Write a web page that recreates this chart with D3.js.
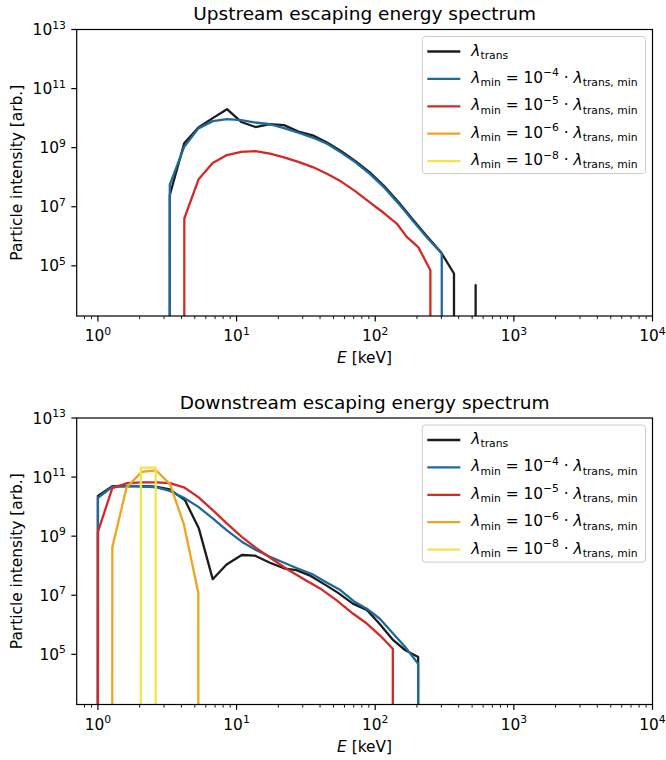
<!DOCTYPE html>
<html>
<head>
<meta charset="utf-8">
<script src="https://cdn.jsdelivr.net/npm/d3@7"></script>
<style>
  body { margin: 0; background: #fff; }
  text { font-family: "DejaVu Sans", sans-serif; fill: #000; white-space: pre; }
</style>
</head>
<body>
<svg id="chart" width="666" height="760"></svg>
<script>
// ---- data (0 = no particles, drops below the axis) ----

// Upstream panel
var upBlackE = [2.6, 3.30, 4.19, 5.31, 6.73, 8.53, 10.8, 13.7, 17.4, 22.0, 27.9, 35.4, 44.9, 56.9, 72.1, 91.4, 116, 147, 186, 236, 299, 370, 450, 530, 620];
var upBlackI = [0, 2.5e7, 1.4e9, 4.8e9, 1.0e10, 2.0e10, 7.4e9, 5.0e9, 6.3e9, 5.8e9, 3.5e9, 2.6e9, 1.5e9, 7.6e8, 3.5e8, 1.45e8, 5.0e7, 1.45e7, 3.8e6, 1.0e6, 2.8e5, 5.5e4, 0, 2.2e4, 0];

var upBlueE = [2.6, 3.30, 4.19, 5.31, 6.73, 8.53, 10.8, 13.7, 17.4, 22.0, 27.9, 35.4, 44.9, 56.9, 72.1, 91.4, 116, 147, 186, 236, 302, 380];
var upBlueI = [0, 5.6e7, 1.07e9, 4.5e9, 7.9e9, 9.3e9, 8.5e9, 7.1e9, 6.2e9, 4.6e9, 3.2e9, 2.2e9, 1.35e9, 6.8e8, 3.2e8, 1.3e8, 4.5e7, 1.3e7, 3.4e6, 9.1e5, 2.6e5, 0];

var upRedE = [3.3, 4.2, 5.31, 6.73, 8.53, 10.8, 13.7, 17.4, 22.0, 27.9, 35.4, 44.9, 56.9, 72.1, 91.4, 116, 143, 169, 205, 250, 300];
var upRedI = [0, 4.0e6, 8.3e7, 3.0e8, 5.6e8, 7.2e8, 7.6e8, 6.3e8, 4.7e8, 3.3e8, 2.2e8, 1.3e8, 7.1e7, 3.3e7, 1.4e7, 6.0e6, 2.7e6, 9.5e5, 4.2e5, 7.1e4, 0];

// Downstream panel
var downBlackE = [0.8, 1.0, 1.27, 1.61, 2.07, 2.65, 3.30, 4.24, 5.35, 6.73, 8.47, 10.9, 13.5, 17.4, 22.4, 27, 34, 44, 54, 69, 87, 107, 135, 164, 204, 260];
var downBlackI = [0, 2.3e10, 4.9e10, 5.0e10, 4.9e10, 4.7e10, 3.8e10, 1.66e10, 1.8e9, 3.5e7, 1.1e8, 2.3e8, 2.2e8, 1.26e8, 7.9e7, 7.1e7, 4.6e7, 2.2e7, 1.2e7, 5.2e6, 3.2e6, 1.1e6, 3.0e5, 1.4e5, 8.1e4, 0];

var downBlueE = [0.8, 1.0, 1.27, 1.61, 2.07, 2.65, 3.30, 4.17, 5.30, 6.73, 8.47, 10.9, 13.8, 17.4, 22.0, 27.9, 35.0, 44, 56, 70, 87, 108, 135, 164, 204, 260];
var downBlueI = [0, 2.0e10, 4.7e10, 4.9e10, 4.9e10, 4.5e10, 3.4e10, 2.0e10, 9.8e9, 4.0e9, 1.6e9, 6.5e8, 3.4e8, 2.0e8, 1.26e8, 7.9e7, 5.2e7, 2.8e7, 1.5e7, 6.3e6, 3.5e6, 1.6e6, 5.0e5, 1.8e5, 4.8e4, 0];

var downRedE = [0.8, 1.0, 1.27, 1.61, 2.07, 2.65, 3.30, 4.17, 5.30, 6.73, 8.5, 10.9, 13.8, 17.4, 22.9, 30, 40, 52.5, 69, 87, 108, 134, 170];
var downRedI = [0, 1.4e9, 4.2e10, 6.2e10, 6.6e10, 6.6e10, 6.2e10, 4.5e10, 2.1e10, 7.6e9, 2.7e9, 9.5e8, 4.0e8, 1.9e8, 7.9e7, 3.7e7, 1.7e7, 6.8e6, 2.4e6, 1.1e6, 4.4e5, 1.55e5, 0];

var downOrangeE = [1.0, 1.27, 1.61, 2.07, 2.62, 3.31, 4.17, 5.30, 6.7];
var downOrangeI = [0, 4.2e8, 4.5e10, 1.5e11, 1.7e11, 5.8e10, 2.5e9, 1.2e7, 0];

var downYellowE = [1.6, 2.04, 2.61, 3.3];
var downYellowI = [0, 2.1e11, 2.1e11, 0];

var seriesNames = ["trans", "-4", "-5", "-6", "-8"];
var seriesColors = ["#1c1c1c", "#1d6a9b", "#d42a25", "#efa420", "#f3e448"];

var xTickValues = [1, 10, 100, 1000, 10000];
var xTickExps = ["0", "1", "2", "3", "4"];
var yTickValues = [1e5, 1e7, 1e9, 1e11, 1e13];
var yTickExps = ["5", "7", "9", "11", "13"];

var panelTitles = ["Upstream escaping energy spectrum", "Downstream escaping energy spectrum"];

// ---- layout ----
var FS = 15.4;          // tick / label / legend font size
var TITLE_FS = 18.5;
var LEFT = 76.7, RIGHT = 652.5, PANEL_H = 286.5;
var PANEL_TOPS = [29.5, 418];
var X_MIN = 0.703, X_MAX = 1e4, Y_MIN = 2e3, Y_MAX = 1e13;

var svg = d3.select("#chart");

function zip(es, is) {
  return es.map(function (e, i) { return [e, is[i]]; });
}

// write mathtext-ish parts: {s, it, sub, sup}
function mathText(textSel, parts, size) {
  var shift = 0;
  parts.forEach(function (p) {
    var want = p.sub ? 0.22 * size : (p.sup ? -0.42 * size : 0);
    var t = textSel.append("tspan").text(p.s).attr("dy", want - shift);
    if (p.sub || p.sup) t.attr("font-size", 0.7 * size);
    if (p.it) t.attr("font-style", "italic");
    shift = want;
  });
}

function drawPanel(idx, lines) {
  var top = PANEL_TOPS[idx];
  var bottom = top + PANEL_H;

  var x = d3.scaleLog().domain([X_MIN, X_MAX]).range([LEFT, RIGHT]);
  var y = d3.scaleLog().domain([Y_MIN, Y_MAX]).range([bottom, top]);
  var yPos = function (v) { return v > 0 ? y(v) : bottom + 1e5; };

  var g = svg.append("g");

  g.append("clipPath").attr("id", "clip" + idx)
    .append("rect").attr("x", LEFT).attr("y", top)
    .attr("width", RIGHT - LEFT).attr("height", PANEL_H);

  var line = d3.line()
    .x(function (d) { return x(d[0]); })
    .y(function (d) { return yPos(d[1]); });

  g.append("g").attr("clip-path", "url(#clip" + idx + ")")
    .selectAll("path")
    .data(lines)
    .enter()
    .append("path")
    .attr("d", function (d) { return line(d.pts); })
    .attr("fill", "none")
    .attr("stroke", function (d) { return seriesColors[d.s]; })
    .attr("stroke-width", 2.3)
    .attr("stroke-linejoin", "round");

  // minor x ticks
  var minors = [];
  [0.1, 1, 10, 100, 1000].forEach(function (dec) {
    for (var m = 2; m <= 9; m++) {
      var v = m * dec;
      if (v >= X_MIN && v <= X_MAX) minors.push(v);
    }
  });
  g.selectAll(".minor").data(minors).enter().append("line")
    .attr("x1", function (d) { return x(d); }).attr("x2", function (d) { return x(d); })
    .attr("y1", bottom).attr("y2", bottom + 3.1)
    .attr("stroke", "#000").attr("stroke-width", 0.9);

  // major x ticks + labels
  g.selectAll(".xmaj").data(xTickValues).enter().append("line")
    .attr("x1", function (d) { return x(d); }).attr("x2", function (d) { return x(d); })
    .attr("y1", bottom).attr("y2", bottom + 5.4)
    .attr("stroke", "#000").attr("stroke-width", 1.2);

  xTickValues.forEach(function (v, i) {
    var t = g.append("text").attr("x", x(v)).attr("y", bottom + 25)
      .attr("text-anchor", "middle").attr("font-size", FS);
    mathText(t, [{ s: "10" }, { s: xTickExps[i], sup: true }], FS);
  });

  // y ticks + labels
  g.selectAll(".ymaj").data(yTickValues).enter().append("line")
    .attr("x1", LEFT - 5.4).attr("x2", LEFT)
    .attr("y1", function (d) { return y(d); }).attr("y2", function (d) { return y(d); })
    .attr("stroke", "#000").attr("stroke-width", 1.2);

  yTickValues.forEach(function (v, i) {
    var t = g.append("text").attr("x", LEFT - 10.8).attr("y", y(v) + 5.6)
      .attr("text-anchor", "end").attr("font-size", FS);
    mathText(t, [{ s: "10" }, { s: yTickExps[i], sup: true }], FS);
  });

  // frame
  g.append("rect").attr("x", LEFT).attr("y", top)
    .attr("width", RIGHT - LEFT).attr("height", PANEL_H)
    .attr("fill", "none").attr("stroke", "#000").attr("stroke-width", 1.2);

  // title and axis labels
  g.append("text").attr("x", (LEFT + RIGHT) / 2).attr("y", top - 9.3)
    .attr("text-anchor", "middle").attr("font-size", TITLE_FS)
    .text(panelTitles[idx]);

  var xl = g.append("text").attr("x", (LEFT + RIGHT) / 2).attr("y", bottom + 47)
    .attr("text-anchor", "middle").attr("font-size", FS);
  mathText(xl, [{ s: "E", it: true }, { s: " [keV]" }], FS);

  g.append("text")
    .attr("transform", "translate(22," + (top + PANEL_H / 2) + ") rotate(-90)")
    .attr("text-anchor", "middle").attr("font-size", FS)
    .text("Particle intensity [arb.]");

  // legend
  var lg = g.append("g");
  var box = lg.append("rect").attr("rx", 3).attr("ry", 3)
    .attr("fill", "#fff").attr("fill-opacity", 0.8)
    .attr("stroke", "#cccccc").attr("stroke-width", 1);
  var rowH = 27.4;
  var maxW = 0;
  seriesNames.forEach(function (name, i) {
    var cy = 15 + i * rowH;
    lg.append("line").attr("x1", 5).attr("x2", 38).attr("y1", cy).attr("y2", cy)
      .attr("stroke", seriesColors[i]).attr("stroke-width", 2.3);
    var t = lg.append("text").attr("x", 49).attr("y", cy + 4).attr("font-size", FS);
    var parts;
    if (name === "trans") {
      parts = [{ s: "λ", it: true }, { s: "trans", sub: true }];
    } else {
      parts = [{ s: "λ", it: true }, { s: "min", sub: true }, { s: " = 10" },
               { s: name.replace("-", "−"), sup: true }, { s: " · " },
               { s: "λ", it: true }, { s: "trans, min", sub: true }];
    }
    mathText(t, parts, FS);
    maxW = Math.max(maxW, t.node().getBBox().width);
  });
  var boxW = 49 + maxW + 7;
  var boxH = 15 + 4 * rowH + 12.5;
  box.attr("width", boxW).attr("height", boxH);
  lg.attr("transform", "translate(" + (RIGHT - 7 - boxW) + "," + (top + 7) + ")");
}

drawPanel(0, [
  { s: 0, pts: zip(upBlackE, upBlackI) },
  { s: 1, pts: zip(upBlueE, upBlueI) },
  { s: 2, pts: zip(upRedE, upRedI) }
]);

drawPanel(1, [
  { s: 0, pts: zip(downBlackE, downBlackI) },
  { s: 1, pts: zip(downBlueE, downBlueI) },
  { s: 2, pts: zip(downRedE, downRedI) },
  { s: 3, pts: zip(downOrangeE, downOrangeI) },
  { s: 4, pts: zip(downYellowE, downYellowI) }
]);
</script>
</body>
</html>
